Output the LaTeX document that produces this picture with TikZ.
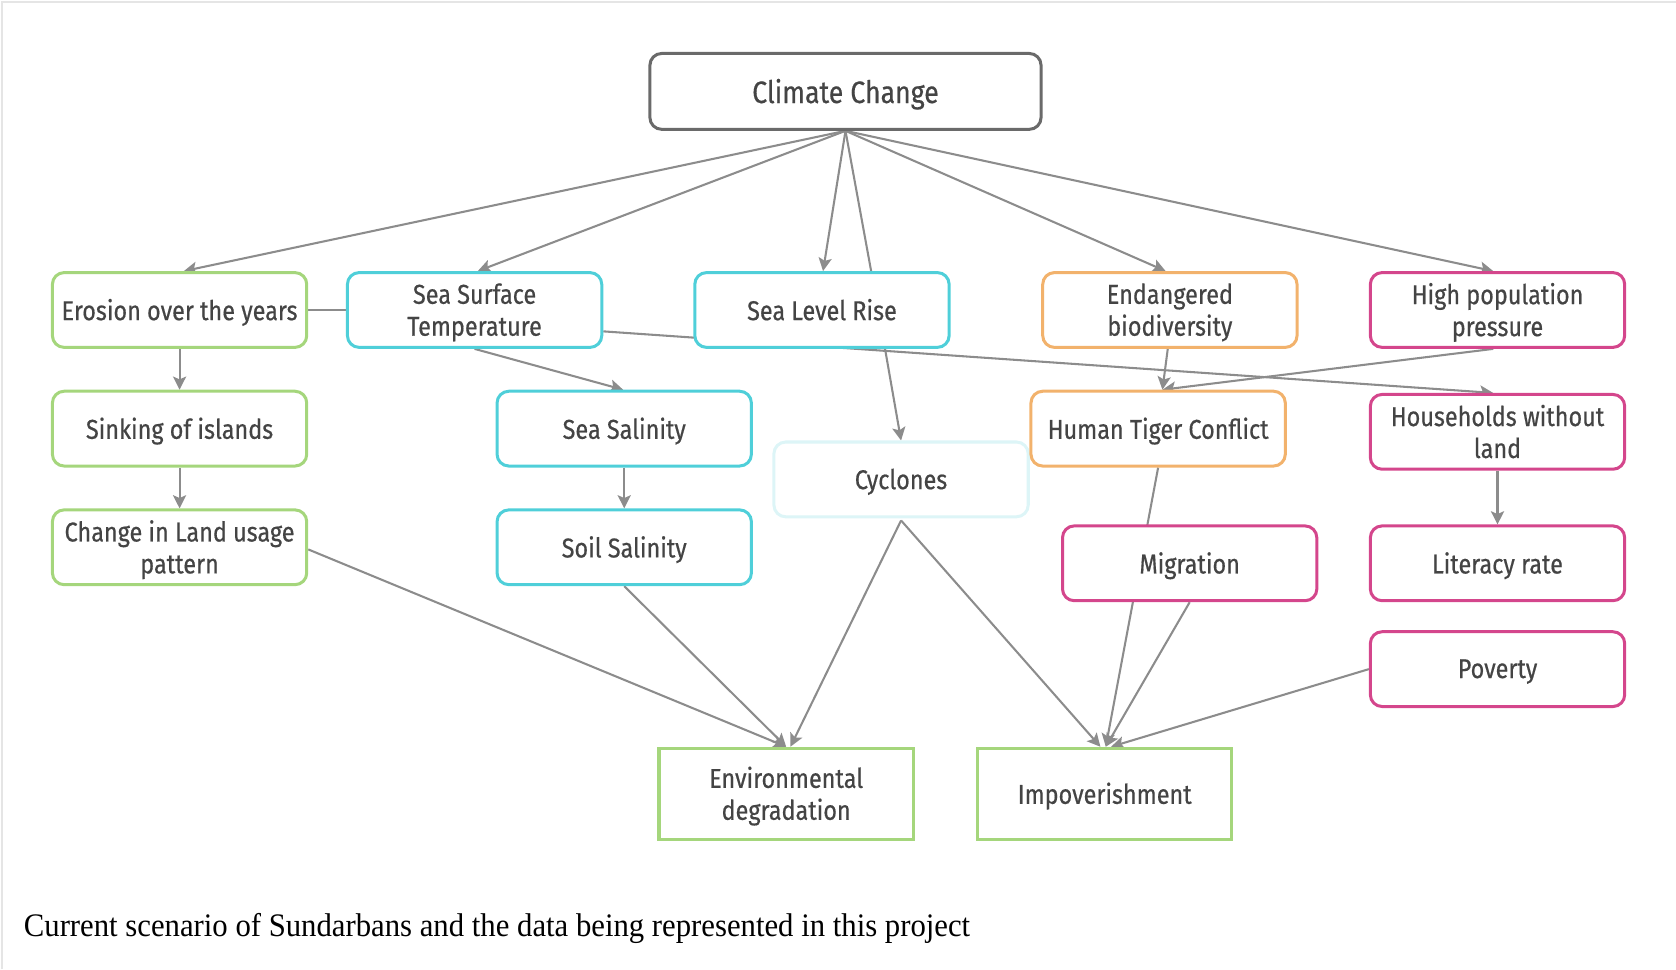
\documentclass[tikz,border=0pt]{standalone}
\usepackage{fontspec}
\setmainfont{Fira Sans}[FakeStretch=0.86,FakeBold=0.5]
\newfontfamily\capfont{Liberation Serif}[FakeStretch=0.935]
\usetikzlibrary{arrows.meta,backgrounds,calc}
\definecolor{cgreen}{HTML}{A5D67C}
\definecolor{ccyan}{HTML}{4FCFD9}
\definecolor{corange}{HTML}{F2B26C}
\definecolor{cmag}{HTML}{D4468C}
\definecolor{cpale}{HTML}{DDF5F7}
\definecolor{cdark}{HTML}{6A6A6A}
\definecolor{ctext}{HTML}{444444}
\definecolor{cedge}{HTML}{8C8C8C}
\begin{document}
\begin{tikzpicture}[x=0.02cm,y=-0.02cm,
  box/.style={draw, fill=white, rounded corners=0.22cm, line width=1.6pt,
    minimum width=4.76cm, minimum height=1.4cm, align=center, text=ctext,
    font=\fontsize{14.5}{17}\selectfont, inner sep=2pt, text depth=0.5pt},
  gbox/.style={box, draw=cgreen},
  cbox/.style={box, draw=ccyan},
  obox/.style={box, draw=corange},
  mbox/.style={box, draw=cmag},
  sqbox/.style={box, draw=cgreen, rounded corners=0pt, minimum height=1.7cm},
  conn/.style={draw=cedge, line width=1.1pt},
  arr/.style={conn, -{Stealth[length=7pt,width=7pt,inset=1.5pt]}}]
\useasboundingbox (0,0) rectangle (1568,907);
\draw[gray!20, line width=1pt] (2,907) -- (2,2) -- (1568,2);

\node[box, draw=cdark, minimum width=7.32cm, minimum height=1.42cm, font=\fontsize{16.5}{19}\selectfont] (cc) at (791,85.5) {Climate Change};

\node[gbox] (ero) at (168,290) {Erosion over the years};
\node[cbox] (sst) at (444,290) {Sea Surface\\Temperature};
\node[cbox] (slr) at (769,290) {Sea Level Rise};
\node[obox] (end) at (1094.5,290) {Endangered\\biodiversity};
\node[mbox] (hpp) at (1401,290) {High population\\pressure};

\node[gbox] (sink) at (168,401) {Sinking of islands};
\node[cbox] (ssal) at (584,401) {Sea Salinity};
\node[box, draw=cpale] (cyc) at (843,448.5) {Cyclones};
\node[obox] (htc) at (1083.5,401) {Human Tiger Conflict};
\node[mbox] (hh) at (1401,404) {Households without\\land};

\node[gbox] (chg) at (168,512) {Change in Land usage\\pattern};
\node[cbox] (soil) at (584,512) {Soil Salinity};
\node[mbox] (mig) at (1113,527) {Migration};
\node[mbox] (lit) at (1401,527) {Literacy rate};
\node[mbox] (pov) at (1401,626) {Poverty};

\node[sqbox] (env) at (735.5,742.5) {Environmental\\degradation};
\node[sqbox] (imp) at (1033.5,742.5) {Impoverishment};

\node[anchor=west, text=black, font=\capfont\fontsize{17.5}{20}\selectfont, inner sep=0pt] (cap) at (22,869) {Current scenario of Sundarbans and the data being represented in this project};

\begin{scope}[on background layer]
\draw[arr] (cc.south) -- ($(ero.north)+(4,0)$);
\draw[arr] (cc.south) -- ($(sst.north)+(3,0)$);
\draw[arr] (cc.south) -- ($(slr.north)+(1,0)$);
\draw[conn] (cc.south) -- ($(slr.north)+(46,0)$);
\draw[arr] (cc.south) -- ($(end.north)+(-4,0)$);
\draw[arr] (cc.south) -- ($(hpp.north)+(-4,0)$);
\draw[conn] (ero.east) -- (sst.west);
\draw[arr] ($(sst.east)+(0,20)$) -- ($(hh.north)+(-4,0)$);
\draw[arr] (sst.south) -- ($(ssal.north)+(-1,0)$);
\draw[arr] ($(slr.south)+(59,0)$) -- (cyc.north);
\draw[arr] ($(end.south)+(-2,0)$) -- ($(htc.north)+(4,0)$);
\draw[arr] ($(hpp.south)+(-4,0)$) -- ($(htc.north)+(4,0)$);
\draw[arr] (ero.south) -- (sink.north);
\draw[arr] (sink.south) -- (chg.north);
\draw[arr] (ssal.south) -- (soil.north);
\draw[arr] (hh.south) -- (lit.north);
\draw[arr] (htc.south) -- ($(imp.north)+(1,0)$);
\draw[arr] (mig.south) -- ($(imp.north)+(1,0)$);
\draw[arr] (pov.west) -- ($(imp.north)+(6,0)$);
\draw[arr] ($(cyc.south)+(0,2)$) -- ($(imp.north)+(-4,0)$);
\draw[arr] ($(cyc.south)+(0,2)$) -- ($(env.north)+(4,0)$);
\draw[arr] ($(chg.east)+(0,2)$) -- (env.north);
\draw[arr] (soil.south) -- (env.north);
\end{scope}
\end{tikzpicture}
\end{document}
